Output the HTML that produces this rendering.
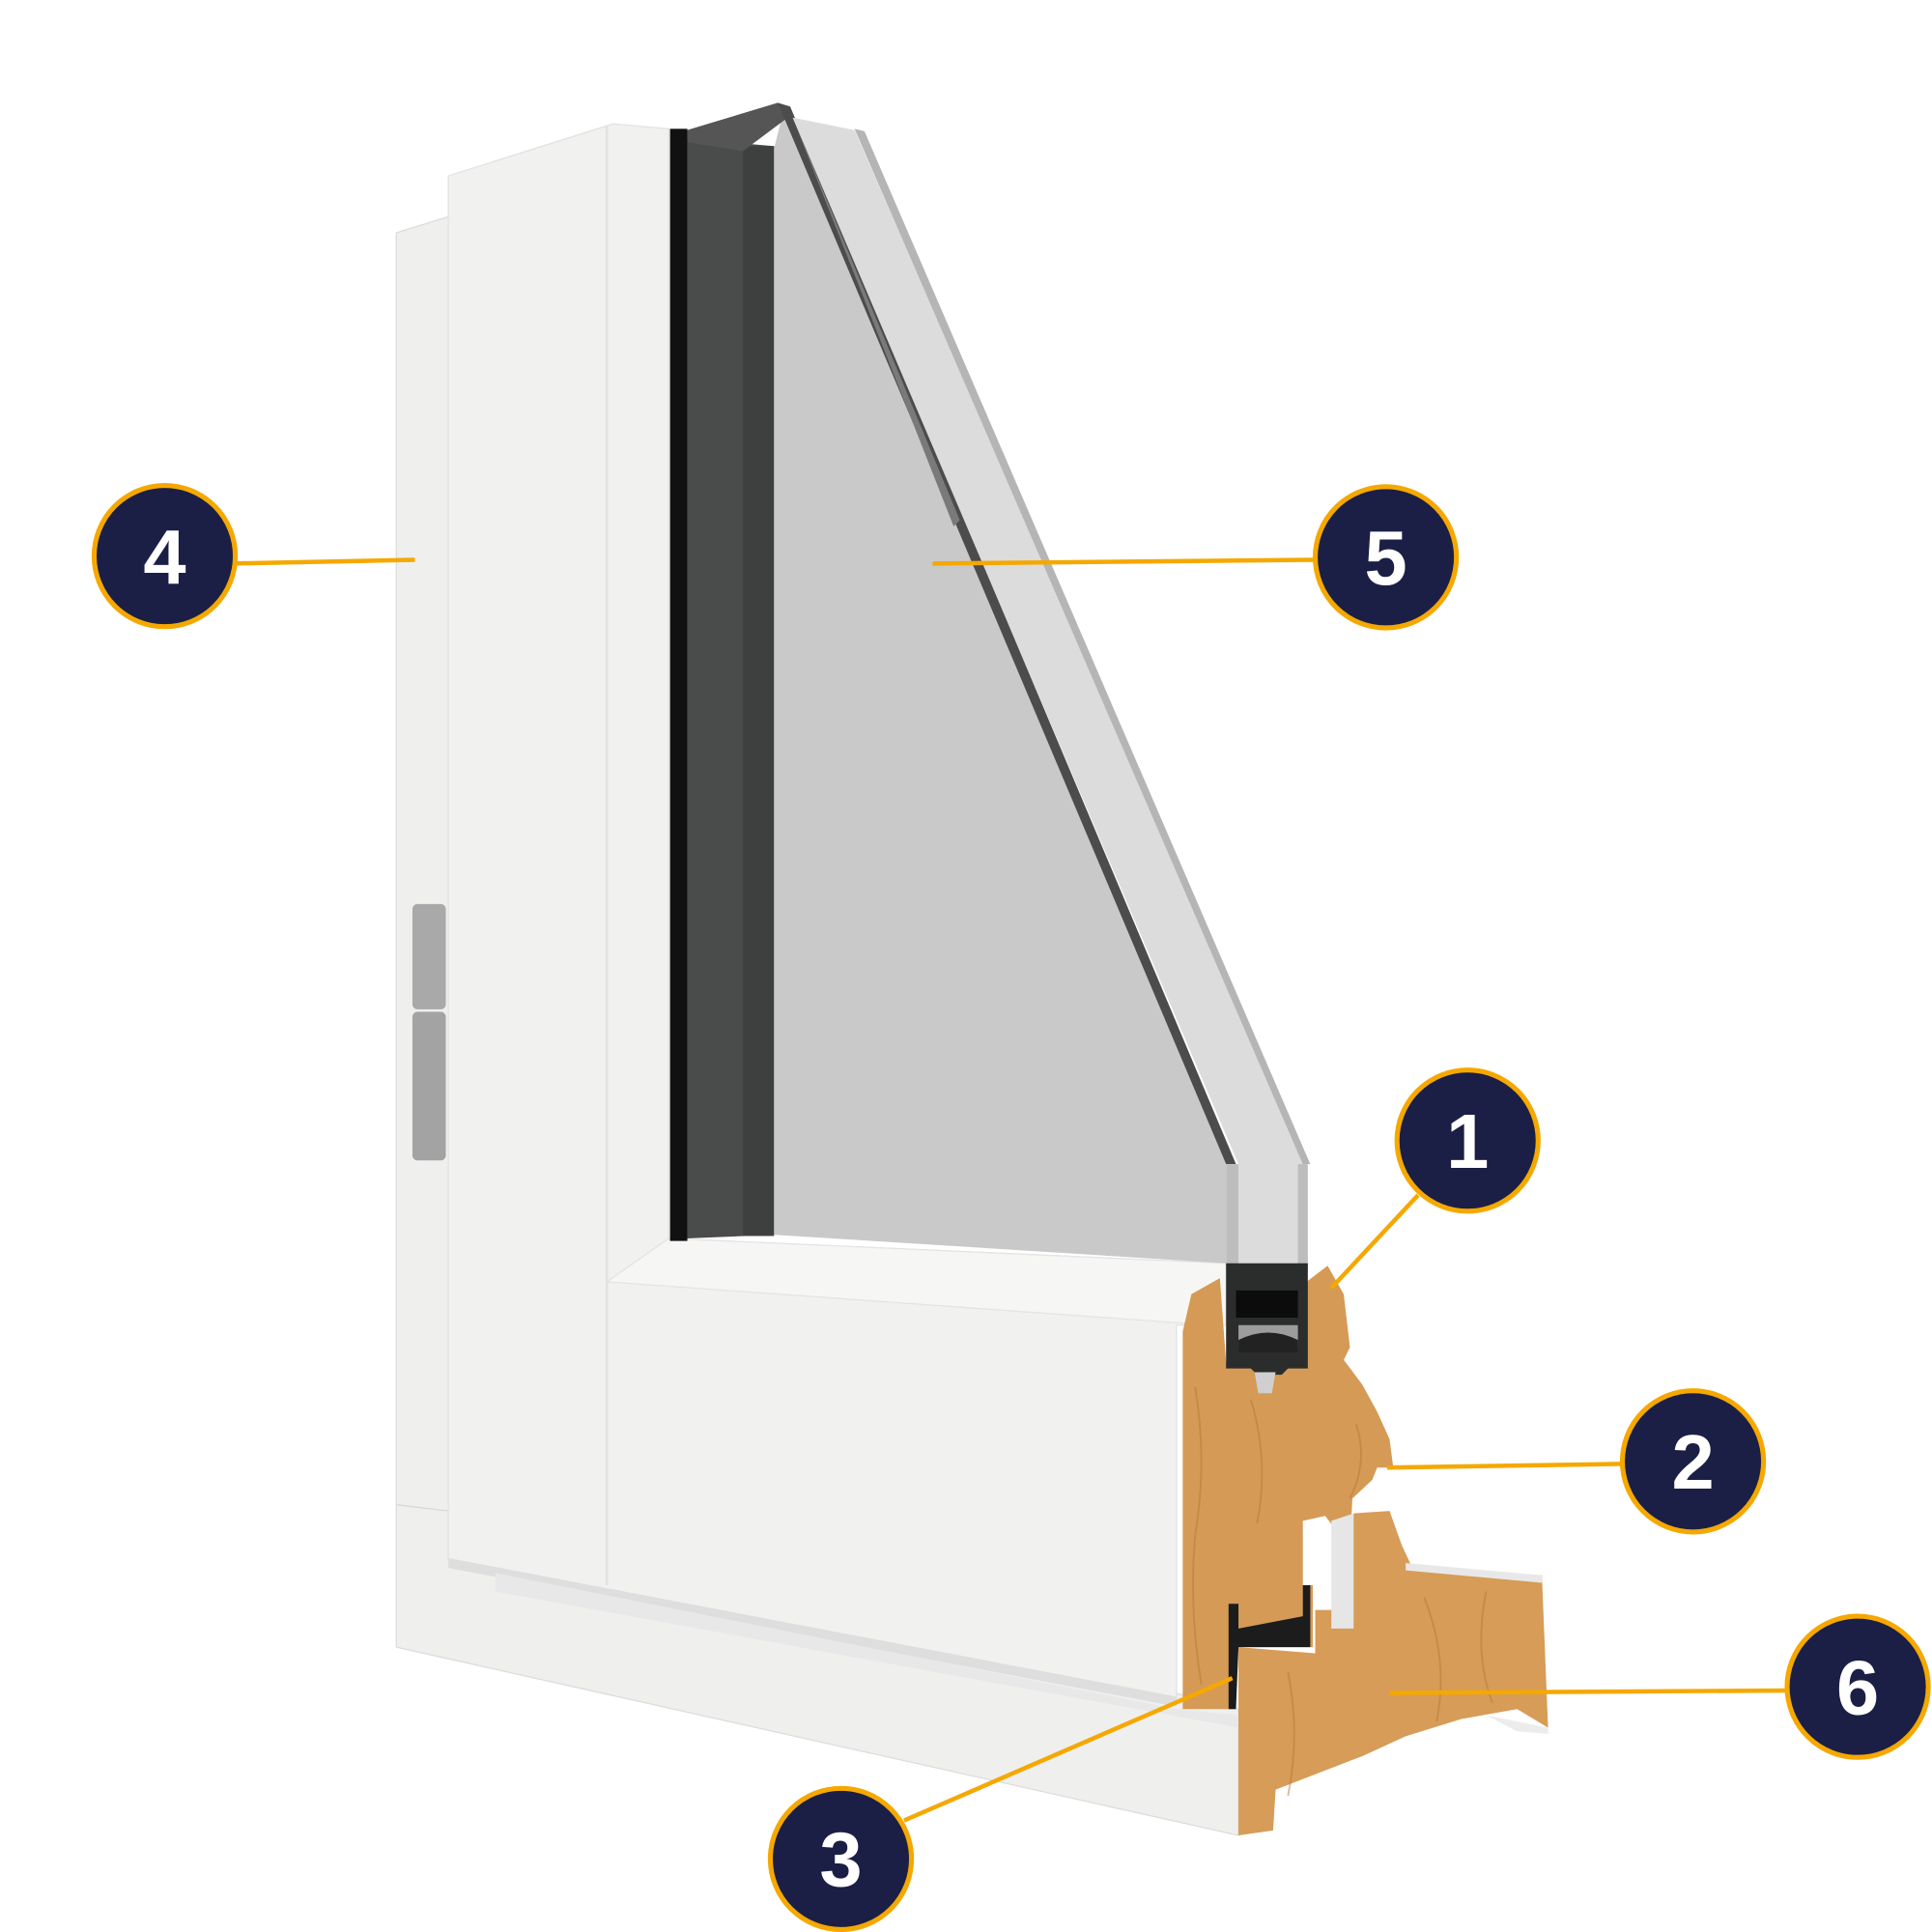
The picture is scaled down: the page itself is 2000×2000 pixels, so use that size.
<!DOCTYPE html>
<html><head><meta charset="utf-8"><style>html,body{margin:0;padding:0;background:#fff}svg{display:block}</style></head>
<body>
<svg width="2000" height="2000" viewBox="0 0 1560 1560" xmlns="http://www.w3.org/2000/svg">
<rect width="1560" height="1560" fill="#fff"/>
<!-- back frame -->
<polygon points="320,188 362,175 362,1218 1000,1380 1000,1482 320,1330" fill="#efefee" stroke="#dcdcdc" stroke-width="1"/>
<line x1="320" y1="1215" x2="362" y2="1220" stroke="#d8d8d8"/>
<!-- hinge -->
<rect x="333" y="730" width="27" height="85" rx="4" fill="#a9a9a9"/>
<rect x="333" y="817" width="27" height="120" rx="4" fill="#a3a3a3"/>
<!-- sash -->
<polygon points="362,142 495,100 540,104 540,1000 990,1020 990,1070 950,1070 950,1375 362,1260" fill="#f1f1f0" stroke="#e2e2e2"/>
<line x1="490" y1="102" x2="490" y2="1280" stroke="#e2e2e2" stroke-width="2"/>
<polygon points="490,1035 540,1000 990,1020 990,1070 950,1068 490,1035" fill="#f6f6f5" stroke="#e4e4e4"/>
<polygon points="362,1258 950,1370 950,1378 362,1266" fill="#dedede"/>
<polygon points="400,1270 950,1380 1000,1385 1000,1395 400,1285" fill="#e8e8e8"/>
<!-- glass -->
<rect x="541" y="104" width="14" height="898" fill="#111"/>
<polygon points="555,112 625,118 625,997 555,1000" fill="#4a4b4b"/>
<rect x="600" y="118" width="25" height="880" fill="#3e4040"/>
<polygon points="625,120 632,92 990,940 990,1020 625,997" fill="#c9c9c9"/>
<polygon points="555,105 628,83 640,92 600,122 555,115" fill="#555"/>
<polygon points="628,83 638,86 998,940 990,940" fill="#4c4c4c"/>
<polygon points="640,95 690,105 1055,940 1055,1022 1000,1022 1000,940" fill="#dcdcdc"/>
<polygon points="690,104 698,106 1058,940 1052,940" fill="#b5b5b5"/>
<polygon points="640,95 770,425 775,420" fill="#7a7a7a"/>
<rect x="990" y="940" width="10" height="85" fill="#bdbdbd"/>
<rect x="1048" y="940" width="8" height="85" fill="#bdbdbd"/>
<!-- wood upper -->
<polygon points="955,1075 962,1045 985,1032 990,1100 1050,1100 1055,1035 1072,1022 1085,1045 1090,1088 1085,1098 1100,1118 1112,1140 1122,1162 1125,1185 1112,1185 1108,1195 1092,1210 1090,1250 1070,1224 1052,1228 1052,1280 1060,1280 1060,1330 1000,1330 997,1380 955,1380" fill="#d59a55"/>
<!-- wood lower -->
<polygon points="1000,1330 1062,1335 1062,1300 1075,1300 1093,1222 1122,1220 1132,1248 1140,1265 1245,1272 1250,1395 1225,1380 1180,1388 1135,1402 1100,1418 1030,1445 1028,1478 1000,1482" fill="#d69c58"/>
<polygon points="1075,1228 1093,1222 1093,1315 1075,1315" fill="#e6e6e6"/>
<polygon points="1135,1262 1245,1272 1245,1278 1135,1268" fill="#e8e8e8"/>
<polygon points="1200,1385 1250,1395 1250,1400 1225,1398" fill="#ececec"/>
<!-- grain hints -->
<g stroke="#b87a3a" stroke-width="1.5" fill="none" opacity="0.5">
<path d="M965,1120 q10,60 0,120 q-5,60 5,120"/><path d="M1010,1130 q15,50 5,100"/><path d="M1150,1290 q20,50 10,100"/><path d="M1200,1285 q-10,50 5,90"/><path d="M1040,1350 q10,50 0,100"/><path d="M1095,1150 q10,30 -5,60"/>
</g>
<!-- gasket -->
<path d="M990,1020 L1056,1020 L1056,1105 L1040,1105 L1035,1110 L1015,1110 L1010,1105 L990,1105 Z" fill="#2b2c2c"/>
<rect x="998" y="1042" width="50" height="22" fill="#0c0c0c"/>
<path d="M1000,1070 L1048,1070 L1048,1090 L1000,1090 Z" fill="#9c9c9c"/>
<path d="M1000,1082 Q1024,1070 1048,1082 L1048,1092 L1000,1092 Z" fill="#222"/>
<path d="M1013,1108 L1030,1108 L1027,1125 L1016,1125 Z" fill="#cfcfcf"/>
<!-- lower gasket -->
<path d="M992,1295 L1000,1295 L1000,1315 L1052,1305 L1052,1280 L1058,1280 L1058,1330 L1000,1330 L998,1380 L992,1380 Z" fill="#1c1c1c"/>
<!-- callout lines -->
<g stroke="#f5a800" stroke-width="3.5" fill="none">
<line x1="188" y1="455" x2="335" y2="452"/>
<line x1="753" y1="455" x2="1062" y2="452"/>
<line x1="1145" y1="965" x2="1075" y2="1040"/>
<line x1="1120" y1="1185" x2="1310" y2="1182"/>
<line x1="1122" y1="1367" x2="1443" y2="1365"/>
<line x1="730" y1="1470" x2="995" y2="1355"/>
</g>
<g fill="#1b1f45" stroke="#f5a800" stroke-width="4">
<circle cx="133" cy="449" r="57"/><circle cx="1119" cy="450" r="57"/><circle cx="1185" cy="921" r="57"/>
<circle cx="1367" cy="1180" r="57"/><circle cx="1500" cy="1362" r="57"/><circle cx="679" cy="1501" r="57"/>
</g>
<g fill="#fff" font-family="Liberation Sans, sans-serif" font-weight="bold" font-size="62" text-anchor="middle">
<text x="133" y="471">4</text><text x="1119" y="472">5</text><text x="1185" y="943">1</text>
<text x="1367" y="1202">2</text><text x="1500" y="1384">6</text><text x="679" y="1523">3</text>
</g>
</svg>
</body></html>
